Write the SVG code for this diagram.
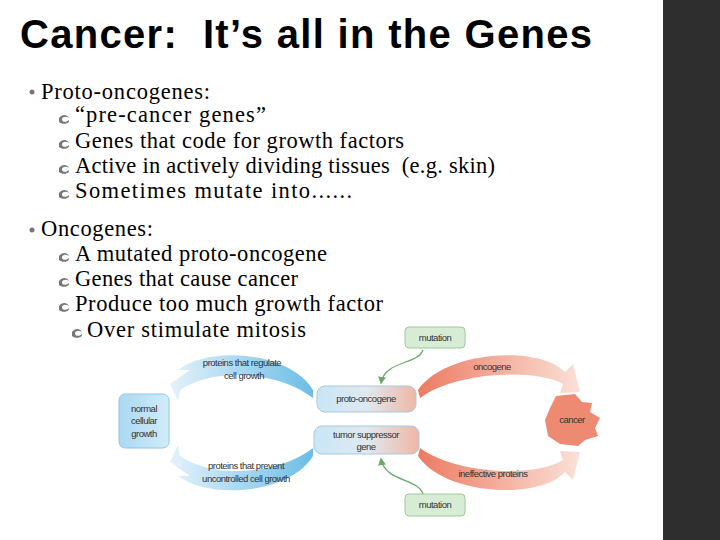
<svg xmlns="http://www.w3.org/2000/svg" width="720" height="540" viewBox="0 0 720 540">
<defs>
<style>
.t{font-family:"Liberation Serif",serif;font-size:22.5px;fill:#000}
.d{font-family:"Liberation Sans",Arial,sans-serif;font-size:9.5px;fill:#333;text-anchor:middle;letter-spacing:-0.5px}
.g{fill:#d7ecd5;stroke:#9cc89a;stroke-width:1}
.gl{fill:none;stroke:#6aa868;stroke-width:1.3}
</style>
<linearGradient id="bl" x1="0" x2="1"><stop offset="0" stop-color="#e4f2fb"/><stop offset="1" stop-color="#6cbde6"/></linearGradient>
<linearGradient id="rd" x1="0" x2="1"><stop offset="0" stop-color="#ec7b63"/><stop offset="1" stop-color="#fbe1d8"/></linearGradient>
<linearGradient id="box" x1="0" x2="1"><stop offset="0" stop-color="#c9e6f6"/><stop offset="0.5" stop-color="#dfe9f0"/><stop offset="1" stop-color="#efb7a5"/></linearGradient>
<linearGradient id="nb" x1="0" x2="1"><stop offset="0" stop-color="#a9d8f2"/><stop offset="1" stop-color="#d2ecf9"/></linearGradient>
<marker id="ga" viewBox="0 0 10 10" refX="8" refY="5" markerWidth="6" markerHeight="6" orient="auto"><path d="M0,0L10,5L0,10z" fill="#6aa868"/></marker>
<path id="cb" d="M0,0c3,-4 8,-4 10,0c-3,-2 -7,-1.5 -7,1.5c0,3 5,3 7,0.5c1,4 -7,5 -10,2z" fill="#777"/>
</defs>
<rect width="720" height="540" fill="#fff"/>
<rect x="663" y="0" width="57" height="540" fill="#2e2e2e"/>
<text x="20" y="48" font-family="Liberation Sans,Arial,sans-serif" font-size="40" font-weight="bold" textLength="572" xml:space="preserve">Cancer:  It’s all in the Genes</text>
<g id="bullets">
<circle cx="32" cy="92" r="2.5" fill="#777"/>
<text class="t" x="41" y="99" textLength="169">Proto-oncogenes:</text>
<use href="#cb" x="59" y="118"/><text class="t" x="75" y="122" textLength="191">“pre-cancer genes”</text>
<use href="#cb" x="59" y="143"/><text class="t" x="75" y="148" textLength="329">Genes that code for growth factors</text>
<use href="#cb" x="59" y="168"/><text class="t" x="75" y="173" textLength="420" xml:space="preserve">Active in actively dividing tissues  (e.g. skin)</text>
<use href="#cb" x="59" y="193"/><text class="t" x="75" y="198" textLength="277">Sometimes mutate into......</text>
<circle cx="32" cy="230" r="2.5" fill="#777"/>
<text class="t" x="41" y="236" textLength="112">Oncogenes:</text>
<use href="#cb" x="59" y="256"/><text class="t" x="75" y="261" textLength="252">A mutated proto-oncogene</text>
<use href="#cb" x="59" y="281"/><text class="t" x="75" y="286" textLength="223">Genes that cause cancer</text>
<use href="#cb" x="59" y="306"/><text class="t" x="75" y="311" textLength="308">Produce too much growth factor</text>
<use href="#cb" x="72" y="332"/><text class="t" x="87" y="337" textLength="219">Over stimulate mitosis</text>
</g>
<g id="connectors">
<path d="M313,390 C290,352 210,345 178,370 L190,370 L170,384 L178,401 L180,390 C215,366 280,372 313,398Z" fill="url(#bl)"/>
<path d="M313,456 C290,494 210,500 178,476 L190,476 L170,462 L178,445 L180,456 C215,480 280,474 313,448Z" fill="url(#bl)"/>
<path d="M418,390 C445,350 540,345 565,372 L573,364 L580,392 L560,393 L563,384 C535,368 455,372 420,398Z" fill="url(#rd)"/>
<path d="M418,456 C445,496 540,500 565,472 L573,480 L580,452 L560,451 L563,460 C535,478 455,474 420,448Z" fill="url(#rd)"/>
<path class="gl" d="M423,350 C418,365 385,360 381,383" marker-end="url(#ga)"/>
<path class="gl" d="M423,494 C418,478 385,482 381,459" marker-end="url(#ga)"/>
</g>
<g id="labels">
<text class="d" x="242" y="366">proteins that regulate</text><text class="d" x="244" y="379">cell growth</text>
<text class="d" x="246" y="469">proteins that prevent</text><text class="d" x="246" y="482">uncontrolled cell growth</text>
<text class="d" x="492" y="370">oncogene</text>
<text class="d" x="493" y="477">ineffective proteins</text>
</g>
<g id="normal"><rect x="119" y="394" width="50" height="54" rx="6" fill="url(#nb)" stroke="#8fc7e6"/><text class="d" x="144" y="412">normal</text><text class="d" x="144" y="424">cellular</text><text class="d" x="144" y="437">growth</text></g>
<g id="proto"><rect x="317" y="386" width="99" height="26" rx="8" fill="url(#box)" stroke="#a9c9dc"/><text class="d" x="366" y="402">proto-oncogene</text></g>
<g id="tumor"><rect x="314" y="426" width="105" height="28" rx="8" fill="url(#box)" stroke="#a9c9dc"/><text class="d" x="366" y="438">tumor suppressor</text><text class="d" x="366" y="450">gene</text></g>
<g id="mut1"><rect x="405" y="327" width="60" height="21" rx="4" class="g"/><text class="d" x="435" y="341">mutation</text></g>
<g id="mut2"><rect x="405" y="494" width="60" height="22" rx="4" class="g"/><text class="d" x="435" y="508">mutation</text></g>
<g id="cancer"><path d="M556,396 L575,394 L582,402 L592,403 L590,412 L600,418 L595,428 L598,436 L585,440 L578,446 L560,444 L548,436 L545,420 L550,408 Z" fill="#ee8a72"/><text class="d" x="572" y="423">cancer</text></g>
</svg>
